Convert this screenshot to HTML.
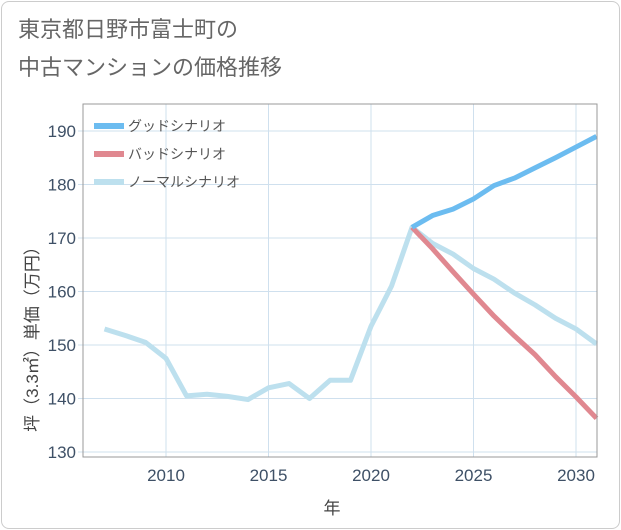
<!DOCTYPE html>
<html><head><meta charset="utf-8"><style>
body{margin:0;background:#fff;font-family:"Liberation Sans","Noto Sans CJK JP",sans-serif;}
#card{position:absolute;left:1px;top:1px;width:617px;height:526px;border:1px solid #ccc;border-radius:8px;background:#fff;}
</style></head><body>
<div id="card"></div>
<svg id="chart" width="621" height="530" style="position:absolute;left:0;top:0">
<text x="18" y="37" font-size="22" fill="#666">東京都日野市富士町の</text>
<text x="18" y="75" font-size="22" fill="#666">中古マンションの価格推移</text>
<g id="grid"></g><g id="series"></g>
<rect x="83" y="104" width="514" height="353" fill="none" stroke="#999" stroke-width="1"/>
<text x="332" y="514" font-size="17" fill="#444" text-anchor="middle">年</text>
<text transform="translate(38,335) rotate(-90)" font-size="17" fill="#444" text-anchor="middle">坪（3.3㎡）単価（万円）</text>
<g id="legend"></g>
</svg>
<script>
const years=[2007,2008,2009,2010,2011,2012,2013,2014,2015,2016,2017,2018,2019,2020,2021,2022,2023,2024,2025,2026,2027,2028,2029,2030,2031];
const normal=[153,151.8,150.5,147.5,140.5,140.8,140.4,139.8,142,142.8,140,143.4,143.4,153.5,161,172,169,167,164.3,162.3,159.7,157.5,155,153,150.2];
const futYears=[2022,2023,2024,2025,2026,2027,2028,2029,2030,2031];
const good=[172,174.2,175.4,177.3,179.8,181.2,183.1,185,187,189];
const bad=[172,168,163.7,159.5,155.4,151.7,148.2,144.1,140.3,136.3];
const xTicks=[2010,2015,2020,2025,2030];
const yTicks=[130,140,150,160,170,180,190];
const NS='http://www.w3.org/2000/svg';
const x=v=>166+(v-2010)*20.5;
const y=v=>452-(v-130)*5.35;
function mk(t,a,p){const e=document.createElementNS(NS,t);for(const k in a)e.setAttribute(k,a[k]);p.appendChild(e);return e;}
const g=document.getElementById('grid');
xTicks.forEach(t=>{const l=mk('line',{x1:x(t),x2:x(t),y1:104,y2:457,stroke:'#cfe0ee'},g);


const tx=mk('text',{x:x(t),y:481,'font-size':17,fill:'#3e5066','text-anchor':'middle'},g);tx.textContent=t;

});
yTicks.forEach(t=>{const l=mk('line',{x1:78,x2:597,y1:y(t),y2:y(t),stroke:'#cfe0ee'},g);


const tx=mk('text',{x:76,y:y(t)+6,'font-size':17,fill:'#3e5066','text-anchor':'end'},g);tx.textContent=t;

});
const s=document.getElementById('series');
function line(xs,vs,c,name){const p=mk('polyline',{points:xs.map((v,i)=>x(v)+','+y(vs[i])).join(' '),fill:'none',stroke:c,'stroke-width':5,'stroke-linejoin':'round'},s);

}
line(years,normal,'#bde0ee','normal-scenario-line');
line(futYears,bad,'#e08890','bad-scenario-line');
line(futYears,good,'#6cbcf0','good-scenario-line');
const lg=document.getElementById('legend');
[['グッドシナリオ','#6cbcf0'],['バッドシナリオ','#e08890'],['ノーマルシナリオ','#bde0ee']].forEach((d,i)=>{
const yy=126+i*28;
const r=mk('rect',{x:94,y:yy-3,width:30,height:6,fill:d[1]},lg);


const t=mk('text',{x:128,y:yy+5,'font-size':14,fill:'#555'},lg);t.textContent=d[0];

});
</script>
</body></html>
